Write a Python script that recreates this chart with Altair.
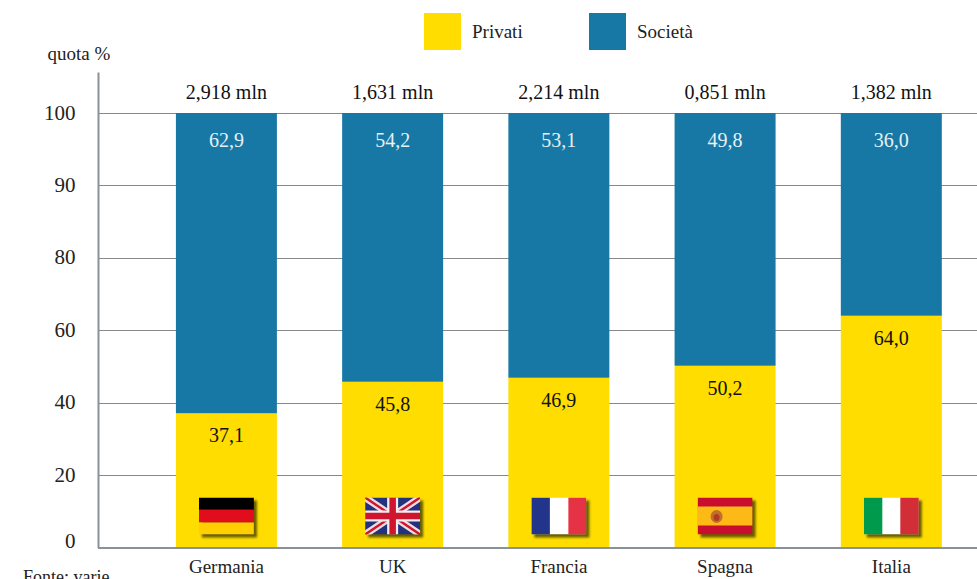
import base64
import altair as alt
import pandas as pd

# Quota di immatricolazioni per paese, privati e società
countries = ["Germania", "UK", "Francia", "Spagna", "Italia"]
privati = [37.1, 45.8, 46.9, 50.2, 64.0]
societa = [62.9, 54.2, 53.1, 49.8, 36.0]
totals = ["2,918 mln", "1,631 mln", "2,214 mln", "0,851 mln", "1,382 mln"]
y_ticks = [0, 20, 40, 60, 80, 90, 100]

GOLD = "#ffdd00"
BLUE = "#1878a5"
INK = "#222222"
AXIS_GRAY = "#8a9299"
FONT = "Liberation Sans Narrow"


def flag_svg(body):
    """Wrap a 55x37 flag drawing in an SVG data URI with a soft drop shadow."""
    svg = (
        '<svg xmlns="http://www.w3.org/2000/svg" width="75" height="57" viewBox="-10 -10 75 57">'
        '<defs><filter id="s" x="-30%" y="-30%" width="160%" height="160%">'
        '<feGaussianBlur stdDeviation="1"/></filter>'
        '<filter id="b"><feGaussianBlur stdDeviation="0.35"/></filter>'
        '<clipPath id="c"><rect width="55" height="37"/></clipPath></defs>'
        '<rect x="3" y="3" width="55" height="37" fill="#4f4a00" opacity="0.85" filter="url(#s)"/>'
        f'<g clip-path="url(#c)"><g filter="url(#b)">{body}</g></g></svg>'
    )
    return "data:image/svg+xml;base64," + base64.b64encode(svg.encode()).decode()


flag_bodies = [
    '<rect width="55" height="13" fill="#000"/><rect y="12" width="55" height="13" fill="#e10a1a"/>'
    '<rect y="25" width="55" height="12" fill="#ffcf06"/>',
    '<rect width="55" height="37" fill="#20307f"/>'
    '<path d="M0 0L55 37M55 0L0 37" stroke="#f0dcdc" stroke-width="7"/>'
    '<path d="M0 0L55 37M55 0L0 37" stroke="#d0122f" stroke-width="2.4"/>'
    '<path d="M27.5 0V37M0 18.5H55" stroke="#f4eeee" stroke-width="11"/>'
    '<path d="M27.5 0V37M0 18.5H55" stroke="#d0122f" stroke-width="6.5"/>',
    '<rect width="55" height="37" fill="#fff"/><rect width="18.5" height="37" fill="#21348b"/>'
    '<rect x="37" width="18" height="37" fill="#e63244"/>',
    '<rect width="55" height="37" fill="#c8102e"/><rect y="9" width="55" height="19" fill="#fdb913"/>'
    '<ellipse cx="19" cy="19" rx="6" ry="6.5" fill="#c0702a"/><ellipse cx="19" cy="20" rx="3" ry="3.5" fill="#b03a20"/>',
    '<rect width="55" height="37" fill="#fff"/><rect width="18.5" height="37" fill="#009a4e"/>'
    '<rect x="36.5" width="18.5" height="37" fill="#d22e38"/>',
]

fmt = lambda v: f"{v:.1f}".replace(".", ",")

segments = pd.DataFrame(
    [
        {"paese": c, "tipo": "Privati", "da": 0, "a": p, "testo": fmt(p), "ink": "#111111"}
        for c, p in zip(countries, privati)
    ]
    + [
        {"paese": c, "tipo": "Società", "da": 100 - s, "a": 100, "testo": fmt(s), "ink": "#e6f0f5"}
        for c, s in zip(countries, societa)
    ]
)
heads = pd.DataFrame({"paese": countries, "totale": totals, "top": [100] * 5})
flags = pd.DataFrame(
    {"paese": countries, "url": [flag_svg(b) for b in flag_bodies], "pos": [8.7] * 5}
)

x_scale = alt.Scale(
    domain=countries, paddingInner=0.392, paddingOuter=0.34, align=0.689
)
# The value axis is evenly spaced over unevenly spaced ticks, with head room above 100
y_scale = alt.Scale(
    domain=y_ticks + [105.67],
    range=[475.5, 403.1, 330.7, 258.2, 185.8, 113.4, 41, 0],
    nice=False,
)

x_enc = alt.X(
    "paese:N",
    scale=x_scale,
    sort=countries,
    axis=alt.Axis(
        title=None,
        labelAngle=0,
        labelFont=FONT,
        labelFontSize=19,
        labelColor=INK,
        labelPadding=10,
        ticks=False,
        domainColor=AXIS_GRAY,
        domainWidth=2,
        zindex=1,
    ),
)
y_axis = alt.Axis(
    values=y_ticks,
    title="quota %",
    titleAngle=0,
    titleX=-51,
    titleY=-13,
    titleAlign="left",
    titleBaseline="alphabetic",
    titleFont=FONT,
    titleFontSize=19,
    titleFontWeight="normal",
    titleColor=INK,
    labelFont=FONT,
    labelFontSize=21,
    labelColor=INK,
    labelPadding=23,
    labelOffset=alt.expr("datum.value === 0 ? -6 : 0"),
    ticks=False,
    domainColor=AXIS_GRAY,
    domainWidth=2,
    grid=True,
    gridColor="#111111",
    gridDash=[1, 1],
    gridWidth=1,
)

bars = (
    alt.Chart(segments)
    .mark_bar(size=101)
    .encode(
        x=x_enc,
        y=alt.Y("da:Q", scale=y_scale, axis=y_axis),
        y2="a:Q",
        color=alt.Color(
            "tipo:N",
            scale=alt.Scale(domain=["Privati", "Società"], range=[GOLD, BLUE]),
            legend=alt.Legend(
                title=None,
                orient="none",
                legendX=326,
                legendY=-59,
                direction="horizontal",
                columns=2,
                columnPadding=66,
                padding=0,
                symbolType="square",
                symbolSize=1369,
                symbolStrokeWidth=0,
                symbolOpacity=1,
                labelFont=FONT,
                labelFontSize=19,
                labelColor=INK,
                labelOffset=11,
            ),
        ),
    )
)

privati_labels = (
    alt.Chart(segments[segments.tipo == "Privati"])
    .mark_text(font=FONT, fontSize=20, dy=23, baseline="middle")
    .encode(
        x=alt.X("paese:N", scale=x_scale, sort=countries),
        y=alt.Y("a:Q", scale=y_scale),
        text="testo:N",
        color=alt.value("#111111"),
    )
)
societa_labels = (
    alt.Chart(segments[segments.tipo == "Società"])
    .mark_text(font=FONT, fontSize=20, dy=28, baseline="middle")
    .encode(
        x=alt.X("paese:N", scale=x_scale, sort=countries),
        y=alt.Y("a:Q", scale=y_scale),
        text="testo:N",
        color=alt.value("#e6f0f5"),
    )
)
total_labels = (
    alt.Chart(heads)
    .mark_text(font=FONT, fontSize=20, dy=-20, baseline="middle")
    .encode(
        x=alt.X("paese:N", scale=x_scale, sort=countries),
        y=alt.Y("top:Q", scale=y_scale),
        text="totale:N",
        color=alt.value("#111111"),
    )
)
flag_marks = (
    alt.Chart(flags)
    .mark_image(width=75, height=57, align="center", baseline="middle")
    .encode(
        x=alt.X("paese:N", scale=x_scale, sort=countries),
        y=alt.Y("pos:Q", scale=y_scale),
        url="url:N",
    )
)
source = (
    alt.Chart(pd.DataFrame({"fonte": ["Fonte: varie"]}))
    .mark_text(font=FONT, fontSize=18, align="left", baseline="alphabetic", color=INK)
    .encode(x=alt.value(-75), y=alt.value(511), text="fonte:N")
)

chart = (
    alt.layer(bars, flag_marks, privati_labels, societa_labels, total_labels, source)
    .properties(
        width=879,
        height=475.5,
        autosize=alt.AutoSizeParams(type="none"),
        padding={"left": 98, "top": 72, "right": 0, "bottom": 31.5},
        background="white",
    )
    .configure_view(stroke=None)
)

chart.save("out.html", embed_options={"renderer": "svg", "actions": False})
